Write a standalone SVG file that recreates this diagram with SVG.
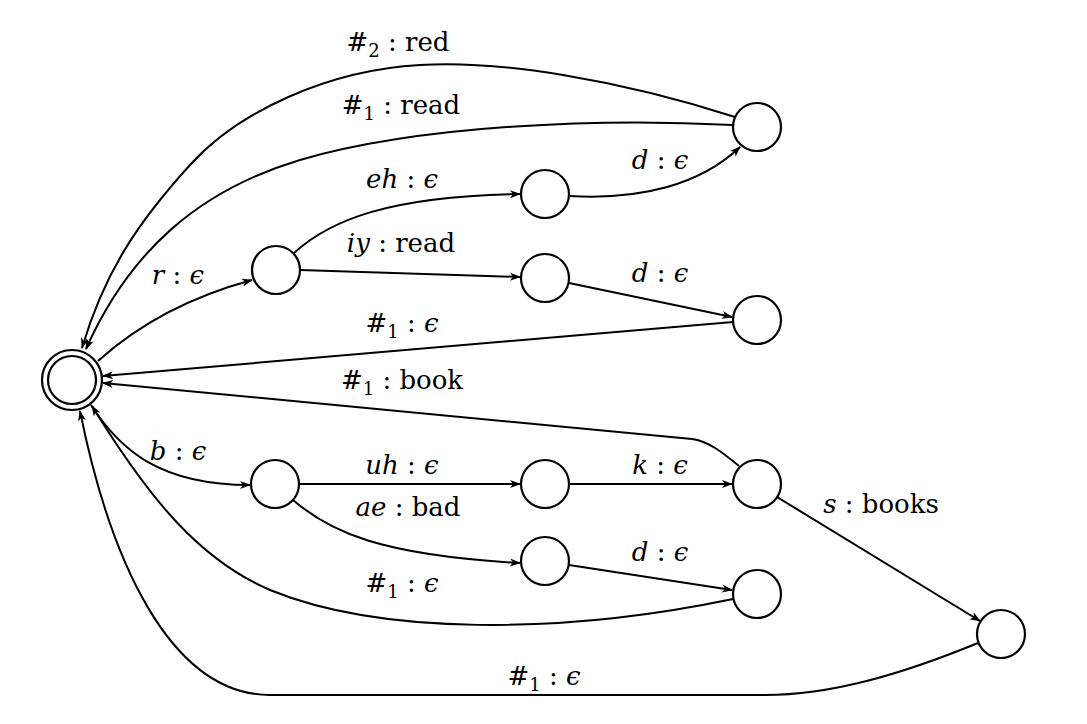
<svg xmlns="http://www.w3.org/2000/svg" width="1087" height="724" viewBox="0 0 1087 724">
<style>
.st{fill:#fff;stroke:#000;stroke-width:2.2}
.e{fill:none;stroke:#000;stroke-width:2;marker-end:url(#arr)}
.n{fill:none;stroke:#000;stroke-width:2.2}
.lbl text{font-family:"DejaVu Serif","Liberation Serif",serif;font-size:26px;fill:#000;text-anchor:middle}
.i{font-style:italic}
.s{font-size:18px}
</style>
<defs>
<marker id="arr" viewBox="-12 -6 14 12" refX="0" refY="0" markerWidth="14" markerHeight="12" markerUnits="userSpaceOnUse" orient="auto">
<path d="M1,0 L-10,-4 L-7,0 L-10,4 Z" fill="#000"/>
</marker>
</defs>
<g id="edges">
<path class="e" d="M735,117 C620,80 500,60 420,65 C330,70 240,110 190,165 C140,220 105,270 82,348"/>
<path class="e" d="M733,125 C600,118 420,125 300,160 C200,190 130,250 86,349"/>
<path class="e" d="M98,361 Q160,305 252,280"/>
<path class="e" d="M294,253 C330,220 390,196 520,194"/>
<path class="e" d="M300,270 L520,277"/>
<path class="e" d="M570,196 C640,200 700,185 740,147"/>
<path class="e" d="M569,283 L732,317"/>
<path class="e" d="M733,322 L103,376"/>
<path class="e" d="M739,466 C722,452 708,441 692,439 L103,383"/>
<path class="e" d="M91,405 C120,450 160,485 250,485"/>
<path class="e" d="M299,484 L520,484"/>
<path class="e" d="M569,484 L732,484"/>
<path class="e" d="M293,500 C330,532 380,555 520,563"/>
<path class="e" d="M569,565 L732,590"/>
<path class="e" d="M733,599 C560,635 380,635 270,590 C200,560 150,500 92,406"/>
<path class="e" d="M777,497 L980,621"/>
<path class="e" d="M978,643 C900,675 830,695 765,695 L270,695 C170,695 110,560 80,411"/>
</g>
<g id="s0"><circle class="st" cx="72" cy="380" r="30"/><circle class="n" cx="72" cy="380" r="24"/></g>
<g id="s1"><circle class="st" cx="276" cy="270" r="24"/></g>
<g id="s2"><circle class="st" cx="545" cy="194" r="24"/></g>
<g id="s3"><circle class="st" cx="757" cy="127" r="24"/></g>
<g id="s4"><circle class="st" cx="545" cy="278" r="24"/></g>
<g id="s5"><circle class="st" cx="757" cy="320" r="24"/></g>
<g id="s6"><circle class="st" cx="275" cy="484" r="24"/></g>
<g id="s7"><circle class="st" cx="545" cy="484" r="24"/></g>
<g id="s8"><circle class="st" cx="757" cy="484" r="24"/></g>
<g id="s9"><circle class="st" cx="545" cy="561" r="24"/></g>
<g id="s10"><circle class="st" cx="757" cy="594" r="24"/></g>
<g id="s11"><circle class="st" cx="1001" cy="634" r="24"/></g>
<g id="labels" class="lbl">
<text x="398" y="51">#<tspan class="s" dy="6">2</tspan><tspan dy="-6"> : red</tspan></text>
<text x="401" y="114">#<tspan class="s" dy="6">1</tspan><tspan dy="-6"> : read</tspan></text>
<text x="402" y="188"><tspan class="i">eh</tspan> : <tspan class="i">ϵ</tspan></text>
<text x="401" y="252"><tspan class="i">iy</tspan> : read</text>
<text x="660" y="169"><tspan class="i">d</tspan> : <tspan class="i">ϵ</tspan></text>
<text x="178" y="284"><tspan class="i">r</tspan> : <tspan class="i">ϵ</tspan></text>
<text x="660" y="282"><tspan class="i">d</tspan> : <tspan class="i">ϵ</tspan></text>
<text x="402" y="332">#<tspan class="s" dy="6">1</tspan><tspan dy="-6"> : </tspan><tspan class="i">ϵ</tspan></text>
<text x="402" y="389">#<tspan class="s" dy="6">1</tspan><tspan dy="-6"> : book</tspan></text>
<text x="178" y="460"><tspan class="i">b</tspan> : <tspan class="i">ϵ</tspan></text>
<text x="402" y="474"><tspan class="i">uh</tspan> : <tspan class="i">ϵ</tspan></text>
<text x="660" y="474"><tspan class="i">k</tspan> : <tspan class="i">ϵ</tspan></text>
<text x="408" y="516"><tspan class="i">ae</tspan> : bad</text>
<text x="881" y="513"><tspan class="i">s</tspan> : books</text>
<text x="660" y="561"><tspan class="i">d</tspan> : <tspan class="i">ϵ</tspan></text>
<text x="402" y="592">#<tspan class="s" dy="6">1</tspan><tspan dy="-6"> : </tspan><tspan class="i">ϵ</tspan></text>
<text x="544" y="685">#<tspan class="s" dy="6">1</tspan><tspan dy="-6"> : </tspan><tspan class="i">ϵ</tspan></text>
</g>
</svg>
